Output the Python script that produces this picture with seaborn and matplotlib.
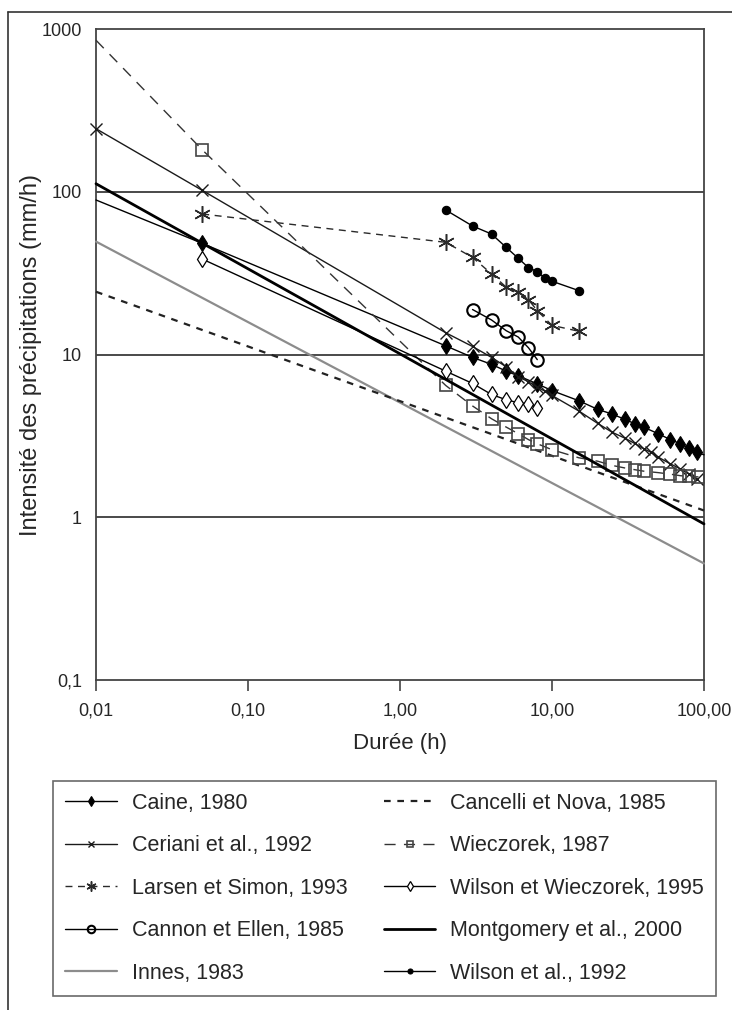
import matplotlib
matplotlib.use("Agg")
import matplotlib.pyplot as plt
from matplotlib.lines import Line2D
from matplotlib.ticker import FixedLocator, FixedFormatter, NullLocator
import seaborn as sns

# ---------------- data ----------------
caine_x = [0.01, 0.05, 2, 3, 4, 5, 6, 8, 10, 15, 20, 25, 30, 35, 40, 50, 60, 70, 80, 90, 100]
caine_y = [89, 48.2, 11.3, 9.6, 8.7, 7.9, 7.4, 6.6, 6.0, 5.2, 4.6, 4.3, 4.0, 3.76, 3.58, 3.26, 3.0, 2.83, 2.66, 2.5, 2.42]

ceriani_x = [0.01, 0.05, 2, 3, 4, 5, 6, 7, 8, 9, 10, 15, 20, 25, 30, 35, 40, 45, 50, 60, 70, 80, 90]
ceriani_y = [244, 102, 13.6, 11.2, 9.6, 8.4, 7.3, 6.8, 6.3, 5.95, 5.6, 4.5, 3.77, 3.32, 3.07, 2.84, 2.64, 2.5, 2.34, 2.13, 1.98, 1.84, 1.71]

larsen_x = [0.05, 2, 3, 4, 5, 6, 7, 8, 10, 15]
larsen_y = [73, 48.9, 39.5, 31.3, 25.9, 24.1, 21.7, 18.6, 15.1, 13.9]

cannon_x = [3, 4, 5, 6, 7, 8]
cannon_y = [18.9, 16.3, 14.0, 12.8, 11.0, 9.3]

innes_x = [0.01, 100]
innes_y = [49.4, 0.52]

cancelli_x = [0.01, 100]
cancelli_y = [24.3, 1.1]

wieczorek_x = [0.01, 0.05, 2, 3, 4, 5, 6, 7, 8, 10, 15, 20, 25, 30, 35, 40, 50, 60, 70, 80, 92]
wieczorek_y = [853, 181, 6.45, 4.83, 4.03, 3.58, 3.26, 3.0, 2.83, 2.6, 2.32, 2.21, 2.08, 2.01, 1.96, 1.92, 1.88, 1.84, 1.80, 1.78, 1.77]

ww_x = [0.05, 2, 3, 4, 5, 6, 7, 8]
ww_y = [38.6, 7.9, 6.64, 5.68, 5.27, 5.05, 4.98, 4.71]

montgomery_x = [0.01, 100]
montgomery_y = [112, 0.91]

wilson_x = [2, 3, 4, 5, 6, 7, 8, 9, 10, 15]
wilson_y = [77.2, 61.6, 55.0, 45.5, 39.0, 34.2, 32.3, 29.4, 28.2, 24.7]

x_ticks = [0.01, 0.1, 1, 10, 100]
x_tick_labels = ["0,01", "0,10", "1,00", "10,00", "100,00"]
y_ticks = [0.1, 1, 10, 100, 1000]
y_tick_labels = ["0,1", "1", "10", "100", "1000"]
grid_levels = [1, 10, 100]

labels = ["Caine, 1980", "Ceriani et al., 1992", "Larsen et Simon, 1993",
          "Cannon et Ellen, 1985", "Innes, 1983", "Cancelli et Nova, 1985",
          "Wieczorek, 1987", "Wilson et Wieczorek, 1995",
          "Montgomery et al., 2000", "Wilson et al., 1992"]

# ---------------- figure ----------------
sns.set_style("white")
plt.rcParams["font.family"] = ["Liberation Sans", "DejaVu Sans"]

W, H = 732, 1010
fig = plt.figure(figsize=(W / 100, H / 100), dpi=100)
ax = fig.add_axes([96 / W, 1 - 680 / H, (704 - 96) / W, (680 - 29) / H])
ax.set_xscale("log")
ax.set_yscale("log")
ax.set_xlim(0.01, 100)
ax.set_ylim(0.1, 1000)

for g in grid_levels:
    ax.axhline(g, color="#4a4a4a", lw=1.4, zorder=1)

common = dict(ax=ax, sort=False, estimator=None, clip_on=False, zorder=3)

sns.lineplot(x=caine_x, y=caine_y, color="black", lw=1.0, marker="d", markersize=8,
             markerfacecolor="black", markeredgecolor="black", markeredgewidth=0.8,
             markevery=list(range(1, len(caine_x) - 1)), label=labels[0], **common)
sns.lineplot(x=ceriani_x, y=ceriani_y, color="#1a1a1a", lw=1.0, marker="x", markersize=8,
             markeredgecolor="#1a1a1a", markeredgewidth=1.0, label=labels[1], **common)
sns.lineplot(x=larsen_x, y=larsen_y, color="#2a2a2a", lw=1.0, linestyle=(0, (5, 4)),
             marker=(6, 2, 0), markersize=12, markeredgecolor="#2a2a2a",
             markeredgewidth=1.1, label=labels[2], **common)
sns.lineplot(x=cannon_x, y=cannon_y, color="black", lw=1.0, marker="o", markersize=9,
             markerfacecolor="none", markeredgecolor="black", markeredgewidth=1.5,
             label=labels[3], **common)
sns.lineplot(x=innes_x, y=innes_y, color="#8c8c8c", lw=1.6, label=labels[4], **common)
sns.lineplot(x=cancelli_x, y=cancelli_y, color="#222222", lw=1.6, linestyle=(0, (3, 3)),
             label=labels[5], **common)
sns.lineplot(x=wieczorek_x, y=wieczorek_y, color="#333333", lw=1.0, linestyle=(0, (8, 6)),
             marker="s", markersize=8, markerfacecolor="none", markeredgecolor="#444444",
             markeredgewidth=1.2, markevery=list(range(1, len(wieczorek_x))),
             label=labels[6], **common)
sns.lineplot(x=ww_x, y=ww_y, color="black", lw=1.0, marker="d", markersize=8,
             markerfacecolor="white", markeredgecolor="black", markeredgewidth=0.9,
             label=labels[7], **common)
sns.lineplot(x=montgomery_x, y=montgomery_y, color="black", lw=2.0, label=labels[8], **common)
sns.lineplot(x=wilson_x, y=wilson_y, color="black", lw=1.0, marker="o", markersize=6,
             markerfacecolor="black", markeredgecolor="black", markeredgewidth=0.8,
             label=labels[9], **common)

handles, hl = ax.get_legend_handles_labels()
if ax.get_legend() is not None:
    ax.get_legend().remove()

# axes styling
for side in ["left", "right", "top", "bottom"]:
    ax.spines[side].set_visible(True)
    ax.spines[side].set_color("#444444")
    ax.spines[side].set_linewidth(1.3)

ax.xaxis.set_major_locator(FixedLocator(x_ticks))
ax.xaxis.set_major_formatter(FixedFormatter(x_tick_labels))
ax.xaxis.set_minor_locator(NullLocator())
ax.yaxis.set_major_locator(FixedLocator(y_ticks))
ax.yaxis.set_major_formatter(FixedFormatter(y_tick_labels))
ax.yaxis.set_minor_locator(NullLocator())
ax.tick_params(axis="x", which="major", direction="out", length=8, width=1.2,
               color="#444444", labelsize=13, pad=8, bottom=True)
ax.tick_params(axis="y", which="major", length=0, labelsize=13, pad=10, left=True)

ax.set_xlabel("Durée (h)", fontsize=16)
ax.set_ylabel("Intensité des précipitations (mm/h)", fontsize=17)
ax.yaxis.set_label_coords((42 - 96) / 608, 0.5)
ax.xaxis.set_label_coords(0.5, (680 - 733) / 651)

# legend
leg = fig.legend(handles, hl, loc="upper left", ncol=2, mode="expand",
                 bbox_to_anchor=(53 / W, 1 - 1000 / H, (716 - 53) / W, (1000 - 781) / H),
                 bbox_transform=fig.transFigure, frameon=True, fancybox=False,
                 edgecolor="#444444", fontsize=15.5, handlelength=2.4, handletextpad=0.7,
                 labelspacing=1.0, borderpad=0.55, markerscale=0.6, columnspacing=0.6,
                 borderaxespad=0)
leg.get_frame().set_linewidth(1.2)

# outer frame (left and top)
fig.add_artist(Line2D([8 / W, 8 / W], [0, 1 - 12 / H], transform=fig.transFigure,
                      color="#333333", lw=1.2))
fig.add_artist(Line2D([8 / W, 1], [1 - 12 / H, 1 - 12 / H], transform=fig.transFigure,
                      color="#333333", lw=1.2))

fig.savefig("out.png", dpi=100)
